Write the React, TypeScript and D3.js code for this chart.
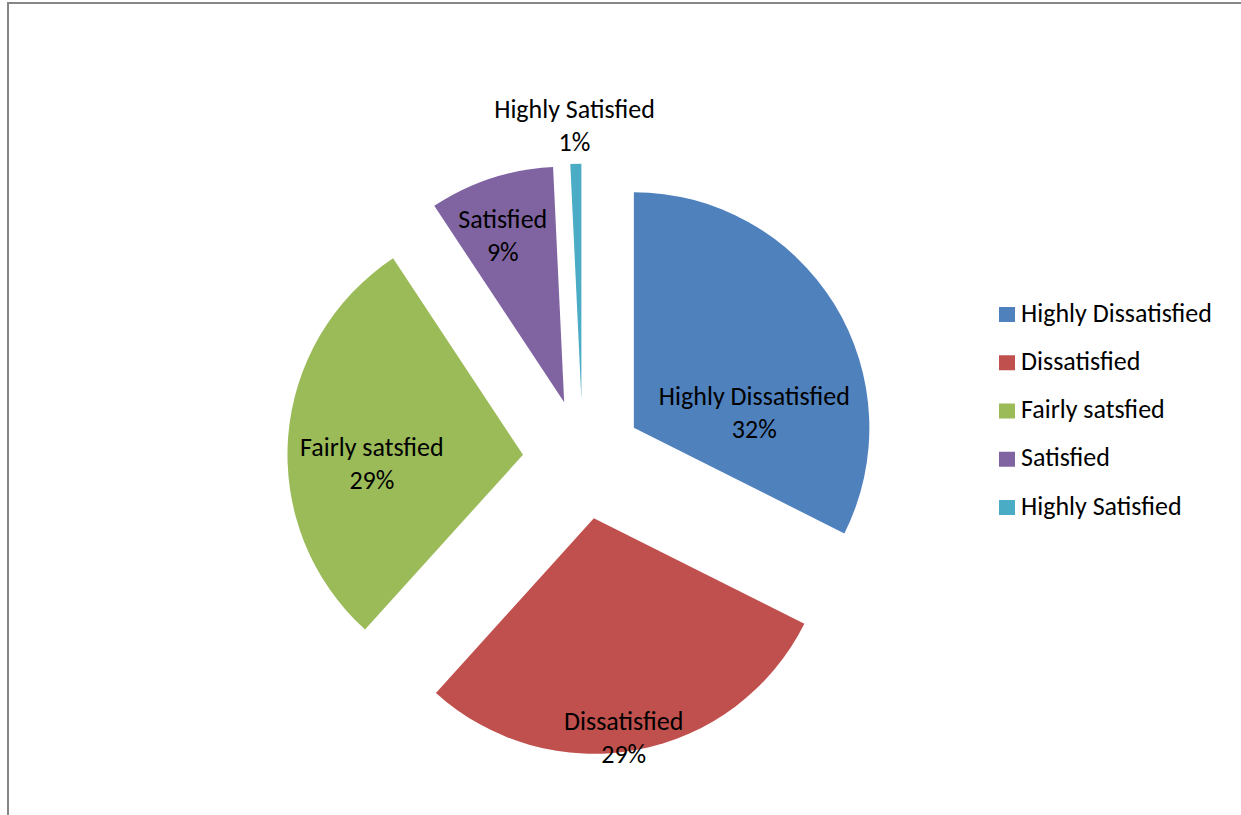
import React from "react";
import * as d3 from "d3";

const categories = ["Highly Dissatisfied", "Dissatisfied", "Fairly satsfied", "Satisfied", "Highly Satisfied"];
const values = [32.4, 29.3, 29.0, 8.55, 0.75];
const colors = ["#4F81BD", "#C0504D", "#9BBB59", "#8064A2", "#4BACC6"];
// label placement: angle offset from slice middle (degrees), radius as a fraction of pie radius
const labelAngleOffset = [25.1, 2.9, -7.9, -2.2, -0.1];
const labelRadiusFrac = [0.515, 0.943, 0.643, 0.752, 1.159];

const W = 1241;
const H = 815;
const CX = 582.8;
const CY = 459.3;
const R = 235.5;
const EXPLODE = 60;
const FONT = "Carlito, Calibri, Lato, 'Noto Sans', sans-serif";
const FS = 26;

export default function App() {
  const total = d3.sum(values);
  const pie = d3.pie<number>().sort(null).value((d) => d).startAngle(0).endAngle(2 * Math.PI);
  const arcs = pie(values);
  const arc = d3.arc<d3.PieArcDatum<number>>().innerRadius(0).outerRadius(R);

  const legendY = d3.scalePoint<number>().domain(d3.range(categories.length)).range([314.5, 507.5]);

  return (
    <svg width={W} height={H} style={{ position: "absolute", left: 0, top: 0, background: "#fff" }} fontFamily={FONT}>
      <rect x={0} y={0} width={W} height={H} fill="#fff" />
      <path d={`M8,${H} V3 H${W}`} fill="none" stroke="#868686" strokeWidth={2} />
      {arcs.map((a, i) => {
        const mid = (a.startAngle + a.endAngle) / 2;
        const ox = EXPLODE * Math.sin(mid);
        const oy = -EXPLODE * Math.cos(mid);
        const la = mid + (labelAngleOffset[i] * Math.PI) / 180;
        const lr = R * labelRadiusFrac[i];
        const lx = lr * Math.sin(la);
        const ly = -lr * Math.cos(la);
        const pct = `${Math.round((values[i] / total) * 100)}%`;
        return (
          <g key={i} transform={`translate(${CX + ox},${CY + oy})`}>
            <path d={arc(a) || ""} fill={colors[i]} />
            <text x={lx} y={ly} textAnchor="middle" fontSize={FS} fill="#000">
              <tspan x={lx} dy={-8.5}>{categories[i]}</tspan>
              <tspan x={lx} dy={33}>{pct}</tspan>
            </text>
          </g>
        );
      })}
      {categories.map((c, i) => (
        <g key={c} transform={`translate(999,${legendY(i)})`}>
          <rect x={0} y={-7.5} width={16} height={15} fill={colors[i]} />
          <text x={22} y={7.2} fontSize={FS} fill="#000">{c}</text>
        </g>
      ))}
    </svg>
  );
}
